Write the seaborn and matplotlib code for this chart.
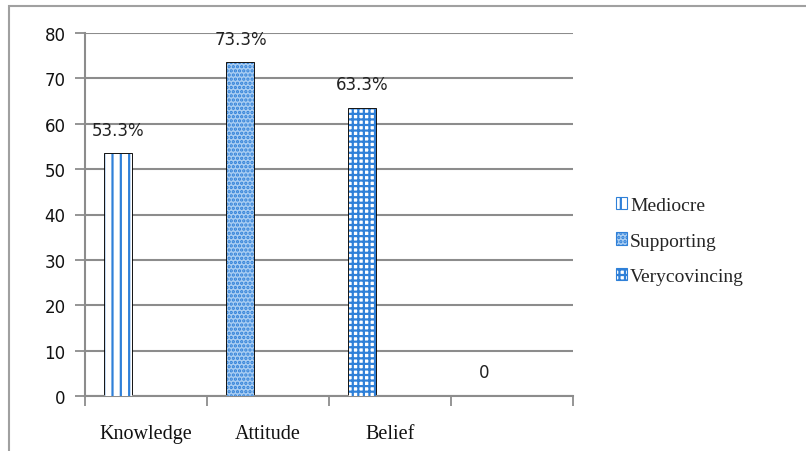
import matplotlib
matplotlib.use("Agg")
import matplotlib.pyplot as plt
from matplotlib.patches import Rectangle
import seaborn as sns
import pandas as pd

# Chart data
categories = ["Knowledge", "Attitude", "Belief", " "]
series = ["Mediocre", "Supporting", "Verycovincing"]
point_series = ["Mediocre", "Supporting", "Verycovincing", "Mediocre"]
values = [53.3, 73.3, 63.3, 0]
y_ticks = [0, 10, 20, 30, 40, 50, 60, 70, 80]

BLUE = "#2f80d8"
GRID = "#8c8c8c"
styles = {
    "Mediocre": dict(face="white", hatch="||"),
    "Supporting": dict(face="#a9cdf2", hatch="...."),
    "Verycovincing": dict(face="white", hatch="+++"),
}

df = pd.DataFrame({"category": categories, "value": values, "series": point_series})

sns.set_theme(style="white")
plt.rcParams["hatch.linewidth"] = 1.6

fig = plt.figure(figsize=(8.06, 4.52), dpi=100)
ax = fig.add_axes([85 / 806, 1 - 397 / 452, (573 - 85) / 806, (397 - 34) / 452])

# Outer chart frame
fig.patches.append(Rectangle((9 / 806, -0.05), 1.0, (452 - 7) / 452 + 0.05,
                             transform=fig.transFigure, fill=False,
                             edgecolor="#a0a0a0", linewidth=1.5, zorder=0))

bar_w = 0.22
sns.barplot(data=df, x="category", y="value", hue="series", order=categories,
            hue_order=series, dodge=False, width=bar_w,
            palette={s: styles[s]["face"] for s in series},
            edgecolor=BLUE, linewidth=0, saturation=1, legend=False, ax=ax)

for cont, s in zip(ax.containers, series):
    for p in cont.patches:
        p.set_facecolor(styles[s]["face"])
        p.set_hatch(styles[s]["hatch"])
        p.set_edgecolor(BLUE)
        p.set_zorder(3)

# Black outline around each bar
sns.barplot(data=df, x="category", y="value", order=categories, width=bar_w,
            fill=False, color="black", linewidth=1.3, legend=False, ax=ax,
            errorbar=None)
for p in ax.patches:
    if not p.get_fill():
        p.set_zorder(4)

# Value labels
label_map = {c: (f"{v:.1f}%" if v else "0") for c, v in zip(categories, values)}
outline = ax.containers[-1]
ax.bar_label(outline, labels=[label_map[c] for c in categories], padding=11,
             fontsize=12, family="DejaVu Sans", color="#222222")

# Category boundaries and label positions
off = 0.225
ax.set_xlim(-0.5 + off, len(categories) - 0.5 + off)
ax.set_xticks([i - 0.5 + off for i in range(len(categories) + 1)])
ax.set_xticklabels([])
ax.set_xticks([i + off for i in range(len(categories))], minor=True)
ax.set_xticklabels(categories, minor=True, family="Liberation Serif",
                   fontsize=14.5, color="#111111")
ax.tick_params(axis="x", which="major", direction="out", length=7, width=1.3,
               color=GRID, bottom=True)
ax.tick_params(axis="x", which="minor", length=0, pad=20)
ax.set_xlabel("")

ax.set_ylim(0, 80)
ax.set_yticks(y_ticks)
ax.set_yticklabels([str(t) for t in y_ticks], family="DejaVu Sans",
                   fontsize=12, color="#111111")
ax.tick_params(axis="y", direction="out", length=7, width=1.3, color=GRID,
               left=True, pad=7)
ax.set_ylabel("")

ax.yaxis.grid(True, color=GRID, linewidth=1.5)
ax.xaxis.grid(False)
ax.set_axisbelow(True)
for side in ["top", "right"]:
    ax.spines[side].set_visible(False)
for side in ["left", "bottom"]:
    ax.spines[side].set_color(GRID)
    ax.spines[side].set_linewidth(1.5)

# Legend with patterned swatches
handles = [Rectangle((0, 0), 1, 1, facecolor=styles[s]["face"], hatch=styles[s]["hatch"],
                     edgecolor=BLUE, linewidth=0.8) for s in series]
leg = fig.legend(handles, series, loc="center left", bbox_to_anchor=(598 / 806, 1 - 242 / 452),
                 frameon=False, handlelength=0.6, handleheight=0.6, handletextpad=0.15,
                 labelspacing=0.95, prop={"family": "Liberation Serif", "size": 14})

fig.savefig("out.png", dpi=100)
